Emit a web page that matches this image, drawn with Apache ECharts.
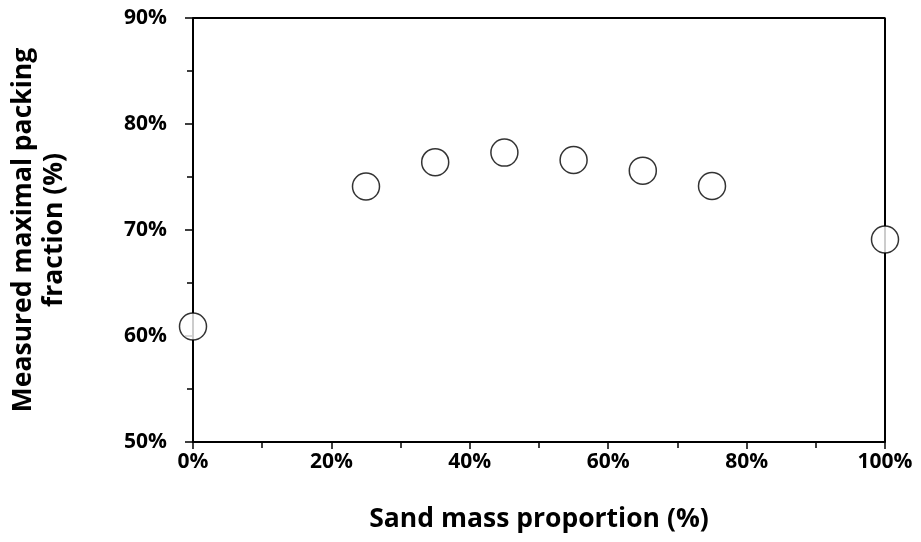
<!DOCTYPE html>
<html>
<head>
<meta charset="utf-8">
<script src="https://cdn.jsdelivr.net/npm/echarts@6/dist/echarts.min.js"></script>
<style>
  html, body { margin: 0; padding: 0; background: #fff; }
  #main { width: 921px; height: 542px; }
</style>
</head>
<body>
<div id="main"></div>
<script>
var myChart = echarts.init(document.getElementById('main'));

// sand mass proportion (%) and measured packing fraction (%)
var sandProportion = [0, 25, 35, 45, 55, 65, 75, 100];
var packingFraction = [60.9, 74.1, 76.4, 77.3, 76.6, 75.6, 74.15, 69.1];

var points = sandProportion.map(function (x, i) {
    return [x, packingFraction[i]];
});

var font = '"Open Sans", sans-serif';

option = {
    backgroundColor: '#ffffff',
    animation: false,
    grid: {
        left: 191,
        right: 36,
        top: 18,
        bottom: 100
    },
    xAxis: {
        type: 'value',
        min: 0,
        max: 100,
        interval: 20,
        name: 'Sand mass proportion (%)',
        nameLocation: 'middle',
        nameGap: 64,
        nameTextStyle: { color: '#000', fontSize: 26.5, fontWeight: 'bold', fontFamily: font },
        axisLine: { show: true, lineStyle: { color: '#000', width: 2 } },
        axisTick: { show: true, length: 7, lineStyle: { color: '#000', width: 1.5 } },
        minorTick: { show: true, splitNumber: 2, length: 6, lineStyle: { color: '#000', width: 1.5 } },
        axisLabel: {
            color: '#000', fontSize: 21, fontWeight: 'bold', fontFamily: font, margin: 10,
            formatter: '{value}%'
        },
        splitLine: { show: false }
    },
    yAxis: {
        type: 'value',
        min: 50,
        max: 90,
        interval: 10,
        name: 'Measured maximal packing\nfraction (%)',
        nameLocation: 'middle',
        nameRotate: 90,
        nameGap: 123,
        nameTextStyle: { color: '#000', fontSize: 26.5, fontWeight: 'bold', fontFamily: font, lineHeight: 31 },
        axisLine: { show: true, lineStyle: { color: '#000', width: 2 } },
        axisTick: { show: true, length: 8, lineStyle: { color: '#000', width: 1.5 } },
        minorTick: { show: true, splitNumber: 2, length: 6, lineStyle: { color: '#000', width: 1.5 } },
        axisLabel: {
            color: '#000', fontSize: 21, fontWeight: 'bold', fontFamily: font, margin: 26,
            formatter: '{value}%'
        },
        splitLine: { show: false }
    },
    series: [
        {
            type: 'scatter',
            data: points,
            symbol: 'circle',
            symbolSize: 27,
            itemStyle: { color: '#ffffff', borderColor: '#000', borderWidth: 1.5 },
            z: 5
        },
        {
            // frame top and right edges
            type: 'line',
            data: [[0, 90], [100, 90], [100, 50]],
            symbol: 'none',
            silent: true,
            lineStyle: { color: '#000', width: 2 },
            z: 1
        }
    ]
};

myChart.setOption(option);
</script>
</body>
</html>
